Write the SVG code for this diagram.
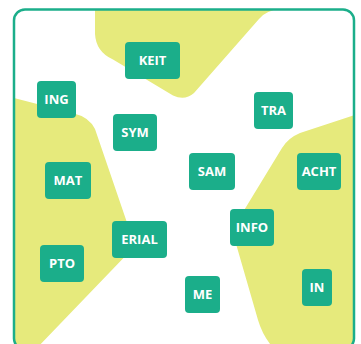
<svg xmlns="http://www.w3.org/2000/svg" width="361" height="344" viewBox="0 0 361 344">
<style>
.blob{fill:#e6ea7c;stroke:none}
.node rect{fill:#1bae8a}
.node text{fill:#ffffff;font-family:"Open Sans","Liberation Sans",sans-serif;font-weight:700;font-size:13px;text-anchor:middle}
.frame{fill:none;stroke:#1bae8a;stroke-width:2.5}
</style>
<defs>
<clipPath id="fc"><rect x="14" y="9.5" width="340" height="340" rx="11"/></clipPath>
</defs>
<rect width="361" height="344" fill="#ffffff"/>
<g id="regions" clip-path="url(#fc)">
<path class="blob" d="M95,0 L95,34 Q96,52 113,59.5 L173,95.5 Q185,101 194,93 L259,19 Q267,9.5 280,9.5 L280,0 Z"/>
<path class="blob" d="M0,94.5 L74,113.5 Q89,117 95,129 L135,246 L35,350 L0,350 Z"/>
<path class="blob" d="M361,113 L300,133 Q288,138 282,148 L232,230 L258,320 Q263,337 275,350 L361,350 Z"/>
</g>
<rect class="frame" x="14" y="9.5" width="340" height="340" rx="11"/>
<g id="connectors"></g>
<g id="n-keit" class="node"><rect x="125" y="42" width="55" height="37" rx="4"/><text x="152.5" y="65">KEIT</text></g>
<g id="n-ing" class="node"><rect x="37" y="81" width="39" height="37" rx="4"/><text x="56.5" y="104">ING</text></g>
<g id="n-tra" class="node"><rect x="254" y="92" width="39" height="37" rx="4"/><text x="273.5" y="115">TRA</text></g>
<g id="n-sym" class="node"><rect x="113" y="114" width="44" height="37" rx="4"/><text x="135" y="137">SYM</text></g>
<g id="n-sam" class="node"><rect x="189" y="153" width="46" height="37" rx="4"/><text x="212" y="176">SAM</text></g>
<g id="n-acht" class="node"><rect x="297" y="153" width="44" height="37" rx="4"/><text x="319" y="176">ACHT</text></g>
<g id="n-mat" class="node"><rect x="45" y="162" width="46" height="37" rx="4"/><text x="68" y="185">MAT</text></g>
<g id="n-erial" class="node"><rect x="112" y="221" width="55" height="37" rx="4"/><text x="139.5" y="244">ERIAL</text></g>
<g id="n-info" class="node"><rect x="230" y="209" width="44" height="37" rx="4"/><text x="252" y="232">INFO</text></g>
<g id="n-pto" class="node"><rect x="40" y="245" width="44" height="37" rx="4"/><text x="62" y="268">PTO</text></g>
<g id="n-me" class="node"><rect x="185" y="276" width="35" height="37" rx="4"/><text x="202.5" y="299">ME</text></g>
<g id="n-in" class="node"><rect x="302" y="269" width="30" height="37" rx="4"/><text x="317" y="292">IN</text></g>
</svg>
